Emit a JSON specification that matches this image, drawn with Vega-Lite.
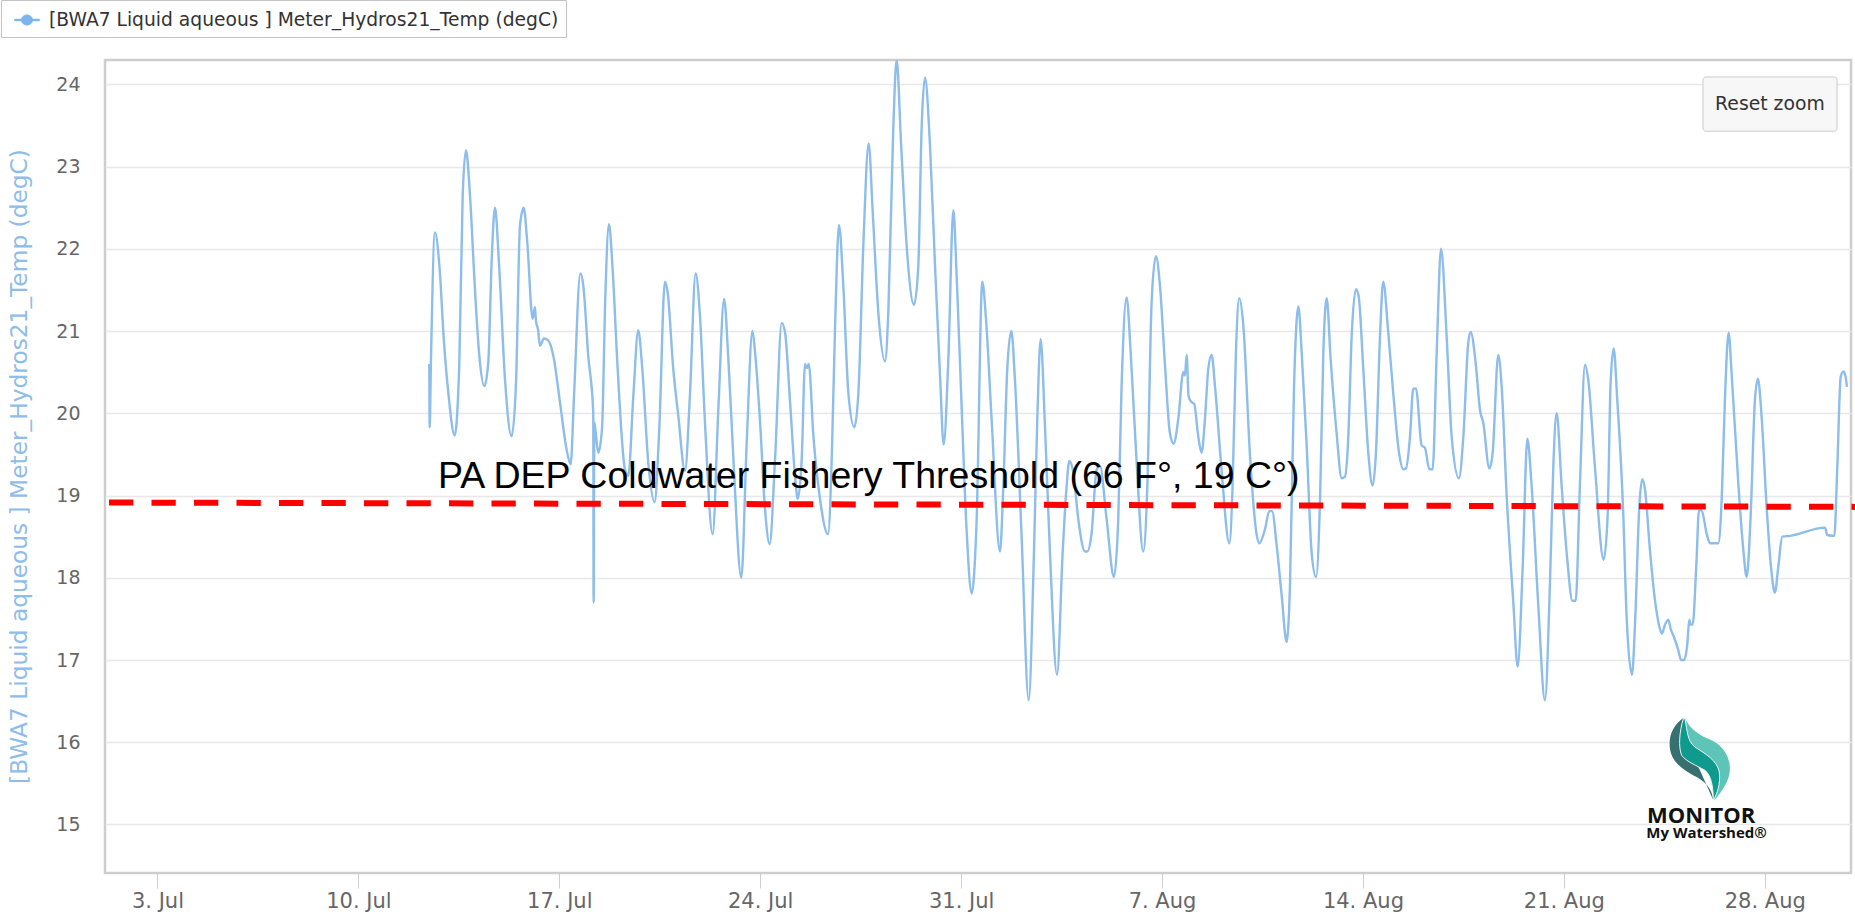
{"$schema":"https://vega.github.io/schema/vega-lite/v6.json","width":1746,"height":813,"autosize":{"type":"none"},"padding":{"left":105,"top":60,"right":4,"bottom":42},"background":"white","config":{"view":{"stroke":"#cdcdcd","strokeWidth":2.5},"font":"DejaVu Sans"},"datasets":{"series":[
{"time":"2023-07-12T11:18Z","temp":20.6},{"time":"2023-07-12T11:36Z","temp":19.83},{"time":"2023-07-12T12:42Z","temp":20.66},{"time":"2023-07-12T16:00Z","temp":22.2},{"time":"2023-07-12T19:42Z","temp":21.8},{"time":"2023-07-12T23:36Z","temp":20.86},{"time":"2023-07-13T03:12Z","temp":20.25},{"time":"2023-07-13T08:30Z","temp":19.73},{"time":"2023-07-13T12:24Z","temp":20.62},{"time":"2023-07-13T15:12Z","temp":22.65},{"time":"2023-07-13T18:00Z","temp":23.2},{"time":"2023-07-13T21:18Z","temp":22.65},{"time":"2023-07-14T01:30Z","temp":21.5},{"time":"2023-07-14T05:06Z","temp":20.7},{"time":"2023-07-14T09:18Z","temp":20.33},{"time":"2023-07-14T12:36Z","temp":20.62},{"time":"2023-07-14T15:24Z","temp":21.84},{"time":"2023-07-14T18:12Z","temp":22.5},{"time":"2023-07-14T21:30Z","temp":21.84},{"time":"2023-07-15T02:36Z","temp":20.41},{"time":"2023-07-15T08:06Z","temp":19.72},{"time":"2023-07-15T11:48Z","temp":20.37},{"time":"2023-07-15T15:06Z","temp":22.28},{"time":"2023-07-15T18:12Z","temp":22.5},{"time":"2023-07-15T21:12Z","temp":22.08},{"time":"2023-07-16T01:42Z","temp":21.15},{"time":"2023-07-16T03:36Z","temp":21.29},{"time":"2023-07-16T04:30Z","temp":21.12},{"time":"2023-07-16T06:12Z","temp":21.02},{"time":"2023-07-16T07:48Z","temp":20.82},{"time":"2023-07-16T11:12Z","temp":20.91},{"time":"2023-07-16T14:30Z","temp":20.89},{"time":"2023-07-16T19:00Z","temp":20.7},{"time":"2023-07-17T00:36Z","temp":20.13},{"time":"2023-07-17T06:06Z","temp":19.56},{"time":"2023-07-17T09:30Z","temp":19.38},{"time":"2023-07-17T12:18Z","temp":20.21},{"time":"2023-07-17T17:36Z","temp":21.7},{"time":"2023-07-17T20:06Z","temp":21.55},{"time":"2023-07-18T00:12Z","temp":20.7},{"time":"2023-07-18T04:24Z","temp":20.01},{"time":"2023-07-18T04:42Z","temp":17.7},{"time":"2023-07-18T05:18Z","temp":19.89},{"time":"2023-07-18T08:36Z","temp":19.52},{"time":"2023-07-18T11:42Z","temp":19.81},{"time":"2023-07-18T14:30Z","temp":21.43},{"time":"2023-07-18T17:30Z","temp":22.3},{"time":"2023-07-18T20:36Z","temp":21.75},{"time":"2023-07-19T00:30Z","temp":20.62},{"time":"2023-07-19T06:54Z","temp":19.32},{"time":"2023-07-19T09:42Z","temp":19.24},{"time":"2023-07-19T13:54Z","temp":20.21},{"time":"2023-07-19T18:00Z","temp":21.01},{"time":"2023-07-19T21:24Z","temp":20.54},{"time":"2023-07-20T02:24Z","temp":19.4},{"time":"2023-07-20T07:42Z","temp":18.92},{"time":"2023-07-20T11:36Z","temp":19.81},{"time":"2023-07-20T16:18Z","temp":21.6},{"time":"2023-07-20T18:36Z","temp":21.47},{"time":"2023-07-20T23:18Z","temp":20.54},{"time":"2023-07-21T03:30Z","temp":19.97},{"time":"2023-07-21T09:06Z","temp":19.3},{"time":"2023-07-21T13:12Z","temp":20.21},{"time":"2023-07-21T18:00Z","temp":21.7},{"time":"2023-07-21T21:36Z","temp":21.19},{"time":"2023-07-22T01:48Z","temp":19.89},{"time":"2023-07-22T08:12Z","temp":18.53},{"time":"2023-07-22T13:00Z","temp":20.05},{"time":"2023-07-22T17:48Z","temp":21.39},{"time":"2023-07-22T21:24Z","temp":20.65},{"time":"2023-07-23T01:36Z","temp":19.44},{"time":"2023-07-23T08:12Z","temp":18.0},{"time":"2023-07-23T12:42Z","temp":19.64},{"time":"2023-07-23T17:30Z","temp":21},{"time":"2023-07-23T19:42Z","temp":20.74},{"time":"2023-07-23T23:54Z","temp":19.89},{"time":"2023-07-24T04:00Z","temp":18.84},{"time":"2023-07-24T07:54Z","temp":18.41},{"time":"2023-07-24T12:24Z","temp":19.44},{"time":"2023-07-24T18:00Z","temp":21.1},{"time":"2023-07-24T20:48Z","temp":20.98},{"time":"2023-07-25T01:00Z","temp":20.13},{"time":"2023-07-25T05:06Z","temp":19.24},{"time":"2023-07-25T07:24Z","temp":18.96},{"time":"2023-07-25T10:42Z","temp":19.44},{"time":"2023-07-25T13:30Z","temp":20.6},{"time":"2023-07-25T14:54Z","temp":20.55},{"time":"2023-07-25T16:36Z","temp":20.6},{"time":"2023-07-25T20:30Z","temp":19.72},{"time":"2023-07-26T02:00Z","temp":18.96},{"time":"2023-07-26T08:42Z","temp":18.53},{"time":"2023-07-26T11:48Z","temp":19.44},{"time":"2023-07-26T14:36Z","temp":21.06},{"time":"2023-07-26T17:54Z","temp":22.29},{"time":"2023-07-26T21:30Z","temp":21.55},{"time":"2023-07-27T01:42Z","temp":20.25},{"time":"2023-07-27T06:42Z","temp":19.83},{"time":"2023-07-27T10:06Z","temp":20.25},{"time":"2023-07-27T14:18Z","temp":22.07},{"time":"2023-07-27T18:42Z","temp":23.28},{"time":"2023-07-27T22:00Z","temp":22.47},{"time":"2023-07-28T02:48Z","temp":21.22},{"time":"2023-07-28T08:24Z","temp":20.63},{"time":"2023-07-28T11:12Z","temp":21.26},{"time":"2023-07-28T15:18Z","temp":23.48},{"time":"2023-07-28T18:06Z","temp":24.3},{"time":"2023-07-28T21:48Z","temp":23.28},{"time":"2023-07-29T02:30Z","temp":22.03},{"time":"2023-07-29T08:36Z","temp":21.32},{"time":"2023-07-29T12:12Z","temp":21.79},{"time":"2023-07-29T15:00Z","temp":23.48},{"time":"2023-07-29T17:48Z","temp":24.08},{"time":"2023-07-29T21:54Z","temp":23.28},{"time":"2023-07-30T02:12Z","temp":21.79},{"time":"2023-07-30T06:24Z","temp":20.45},{"time":"2023-07-30T09:24Z","temp":19.62},{"time":"2023-07-30T13:18Z","temp":20.65},{"time":"2023-07-30T17:30Z","temp":22.47},{"time":"2023-07-30T20:18Z","temp":21.66},{"time":"2023-07-31T00:30Z","temp":20.05},{"time":"2023-07-31T04:42Z","temp":18.55},{"time":"2023-07-31T08:48Z","temp":17.81},{"time":"2023-07-31T13:00Z","temp":18.71},{"time":"2023-07-31T17:42Z","temp":21.6},{"time":"2023-07-31T20:48Z","temp":21.15},{"time":"2023-08-01T01:30Z","temp":19.93},{"time":"2023-08-01T08:30Z","temp":18.32},{"time":"2023-08-01T11:18Z","temp":19.11},{"time":"2023-08-01T14:36Z","temp":20.54},{"time":"2023-08-01T18:00Z","temp":21},{"time":"2023-08-01T21:00Z","temp":20.41},{"time":"2023-08-02T02:36Z","temp":18.5},{"time":"2023-08-02T08:30Z","temp":16.51},{"time":"2023-08-02T12:54Z","temp":18.3},{"time":"2023-08-02T15:42Z","temp":19.93},{"time":"2023-08-02T18:30Z","temp":20.9},{"time":"2023-08-02T22:06Z","temp":19.85},{"time":"2023-08-03T02:18Z","temp":18.3},{"time":"2023-08-03T08:12Z","temp":16.82},{"time":"2023-08-03T12:54Z","temp":18.3},{"time":"2023-08-03T16:12Z","temp":19.11},{"time":"2023-08-03T18:30Z","temp":19.42},{"time":"2023-08-03T21:48Z","temp":19.28},{"time":"2023-08-04T02:00Z","temp":18.71},{"time":"2023-08-04T07:36Z","temp":18.32},{"time":"2023-08-04T09:30Z","temp":18.32},{"time":"2023-08-04T13:06Z","temp":18.54},{"time":"2023-08-04T17:18Z","temp":19.31},{"time":"2023-08-04T20:06Z","temp":19.36},{"time":"2023-08-05T01:42Z","temp":18.71},{"time":"2023-08-05T07:48Z","temp":18.01},{"time":"2023-08-05T11:24Z","temp":18.71},{"time":"2023-08-05T14:12Z","temp":20.33},{"time":"2023-08-05T18:24Z","temp":21.41},{"time":"2023-08-05T21:48Z","temp":20.74},{"time":"2023-08-06T02:48Z","temp":19.4},{"time":"2023-08-06T08:18Z","temp":18.32},{"time":"2023-08-06T11:42Z","temp":19.11},{"time":"2023-08-06T15:18Z","temp":21.35},{"time":"2023-08-06T18:54Z","temp":21.91},{"time":"2023-08-06T22:18Z","temp":21.55},{"time":"2023-08-07T02:30Z","temp":20.58},{"time":"2023-08-07T06:36Z","temp":19.76},{"time":"2023-08-07T09:42Z","temp":19.63},{"time":"2023-08-07T13:36Z","temp":19.93},{"time":"2023-08-07T17:48Z","temp":20.5},{"time":"2023-08-07T19:12Z","temp":20.46},{"time":"2023-08-07T20:36Z","temp":20.71},{"time":"2023-08-07T22:12Z","temp":20.21},{"time":"2023-08-07T23:54Z","temp":20.15},{"time":"2023-08-08T03:00Z","temp":20.11},{"time":"2023-08-08T06:18Z","temp":19.72},{"time":"2023-08-08T09:06Z","temp":19.52},{"time":"2023-08-08T11:54Z","temp":19.93},{"time":"2023-08-08T14:42Z","temp":20.54},{"time":"2023-08-08T17:30Z","temp":20.71},{"time":"2023-08-08T20:18Z","temp":20.33},{"time":"2023-08-09T01:48Z","temp":19.31},{"time":"2023-08-09T08:18Z","temp":18.42},{"time":"2023-08-09T11:00Z","temp":19.11},{"time":"2023-08-09T13:48Z","temp":20.74},{"time":"2023-08-09T16:36Z","temp":21.4},{"time":"2023-08-09T20:00Z","temp":21.07},{"time":"2023-08-10T01:36Z","temp":19.48},{"time":"2023-08-10T07:12Z","temp":18.52},{"time":"2023-08-10T09:24Z","temp":18.42},{"time":"2023-08-10T14:06Z","temp":18.59},{"time":"2023-08-10T17:42Z","temp":18.81},{"time":"2023-08-10T20:00Z","temp":18.81},{"time":"2023-08-10T23:54Z","temp":18.39},{"time":"2023-08-11T04:06Z","temp":17.78},{"time":"2023-08-11T08:12Z","temp":17.22},{"time":"2023-08-11T11:00Z","temp":17.9},{"time":"2023-08-11T14:24Z","temp":20.33},{"time":"2023-08-11T18:00Z","temp":21.3},{"time":"2023-08-11T20:48Z","temp":20.74},{"time":"2023-08-12T01:00Z","temp":19.6},{"time":"2023-08-12T05:06Z","temp":18.31},{"time":"2023-08-12T08:48Z","temp":18.01},{"time":"2023-08-12T12:06Z","temp":18.92},{"time":"2023-08-12T14:54Z","temp":20.74},{"time":"2023-08-12T17:42Z","temp":21.4},{"time":"2023-08-12T21:00Z","temp":20.66},{"time":"2023-08-13T02:00Z","temp":19.76},{"time":"2023-08-13T06:12Z","temp":19.21},{"time":"2023-08-13T09:00Z","temp":19.23},{"time":"2023-08-13T11:48Z","temp":19.72},{"time":"2023-08-13T14:36Z","temp":20.94},{"time":"2023-08-13T18:12Z","temp":21.51},{"time":"2023-08-13T20:24Z","temp":21.43},{"time":"2023-08-14T00:18Z","temp":20.54},{"time":"2023-08-14T04:30Z","temp":19.52},{"time":"2023-08-14T08:06Z","temp":19.12},{"time":"2023-08-14T10:54Z","temp":19.52},{"time":"2023-08-14T14:18Z","temp":20.94},{"time":"2023-08-14T17:00Z","temp":21.6},{"time":"2023-08-14T21:12Z","temp":20.98},{"time":"2023-08-15T01:24Z","temp":20.24},{"time":"2023-08-15T06:12Z","temp":19.52},{"time":"2023-08-15T09:48Z","temp":19.32},{"time":"2023-08-15T12:00Z","temp":19.33},{"time":"2023-08-15T15:24Z","temp":19.72},{"time":"2023-08-15T18:06Z","temp":20.3},{"time":"2023-08-15T20:24Z","temp":20.3},{"time":"2023-08-16T01:06Z","temp":19.61},{"time":"2023-08-16T03:54Z","temp":19.58},{"time":"2023-08-16T07:30Z","temp":19.32},{"time":"2023-08-16T10:18Z","temp":19.32},{"time":"2023-08-16T13:42Z","temp":20.74},{"time":"2023-08-16T17:18Z","temp":22},{"time":"2023-08-16T22:00Z","temp":20.94},{"time":"2023-08-17T02:12Z","temp":19.72},{"time":"2023-08-17T08:18Z","temp":19.21},{"time":"2023-08-17T12:00Z","temp":19.72},{"time":"2023-08-17T16:06Z","temp":20.86},{"time":"2023-08-17T18:06Z","temp":20.99},{"time":"2023-08-17T22:30Z","temp":20.58},{"time":"2023-08-18T01:54Z","temp":20.04},{"time":"2023-08-18T04:42Z","temp":19.88},{"time":"2023-08-18T09:42Z","temp":19.33},{"time":"2023-08-18T12:30Z","temp":19.52},{"time":"2023-08-18T17:12Z","temp":20.71},{"time":"2023-08-18T20:00Z","temp":20.33},{"time":"2023-08-19T00:12Z","temp":19},{"time":"2023-08-19T05:48Z","temp":17.69},{"time":"2023-08-19T09:24Z","temp":16.92},{"time":"2023-08-19T13:36Z","temp":18.13},{"time":"2023-08-19T17:30Z","temp":19.69},{"time":"2023-08-19T21:06Z","temp":19.11},{"time":"2023-08-20T02:42Z","temp":17.65},{"time":"2023-08-20T08:12Z","temp":16.51},{"time":"2023-08-20T12:24Z","temp":17.93},{"time":"2023-08-20T15:12Z","temp":19.35},{"time":"2023-08-20T18:00Z","temp":20},{"time":"2023-08-20T22:12Z","temp":19.11},{"time":"2023-08-21T02:54Z","temp":18.22},{"time":"2023-08-21T07:06Z","temp":17.72},{"time":"2023-08-21T09:54Z","temp":17.72},{"time":"2023-08-21T13:30Z","temp":19.15},{"time":"2023-08-21T17:42Z","temp":20.59},{"time":"2023-08-21T20:30Z","temp":20.4},{"time":"2023-08-22T02:00Z","temp":19.35},{"time":"2023-08-22T09:18Z","temp":18.22},{"time":"2023-08-22T12:36Z","temp":18.74},{"time":"2023-08-22T15:06Z","temp":20.36},{"time":"2023-08-22T17:42Z","temp":20.79},{"time":"2023-08-22T20:42Z","temp":20.16},{"time":"2023-08-23T01:42Z","temp":18.78},{"time":"2023-08-23T04:30Z","temp":17.53},{"time":"2023-08-23T09:00Z","temp":16.82},{"time":"2023-08-23T11:48Z","temp":17.53},{"time":"2023-08-23T15:06Z","temp":18.86},{"time":"2023-08-23T17:36Z","temp":19.2},{"time":"2023-08-23T19:54Z","temp":19.07},{"time":"2023-08-24T00:00Z","temp":18.34},{"time":"2023-08-24T04:12Z","temp":17.73},{"time":"2023-08-24T07:30Z","temp":17.43},{"time":"2023-08-24T10:00Z","temp":17.32},{"time":"2023-08-24T12:36Z","temp":17.43},{"time":"2023-08-24T15:24Z","temp":17.49},{"time":"2023-08-24T17:18Z","temp":17.38},{"time":"2023-08-24T20:06Z","temp":17.28},{"time":"2023-08-24T23:42Z","temp":17.12},{"time":"2023-08-25T02:00Z","temp":17},{"time":"2023-08-25T04:30Z","temp":17},{"time":"2023-08-25T07:18Z","temp":17.2},{"time":"2023-08-25T08:54Z","temp":17.49},{"time":"2023-08-25T10:00Z","temp":17.43},{"time":"2023-08-25T11:42Z","temp":17.43},{"time":"2023-08-25T15:00Z","temp":18.22},{"time":"2023-08-25T17:00Z","temp":18.82},{"time":"2023-08-25T19:12Z","temp":18.82},{"time":"2023-08-25T23:24Z","temp":18.54},{"time":"2023-08-26T02:12Z","temp":18.42},{"time":"2023-08-26T09:12Z","temp":18.42},{"time":"2023-08-26T12:00Z","temp":18.95},{"time":"2023-08-26T14:42Z","temp":20.16},{"time":"2023-08-26T17:48Z","temp":20.98},{"time":"2023-08-26T20:18Z","temp":20.49},{"time":"2023-08-27T01:54Z","temp":19.15},{"time":"2023-08-27T06:06Z","temp":18.34},{"time":"2023-08-27T08:54Z","temp":18.01},{"time":"2023-08-27T12:12Z","temp":18.74},{"time":"2023-08-27T15:48Z","temp":20.16},{"time":"2023-08-27T18:18Z","temp":20.42},{"time":"2023-08-27T21:24Z","temp":19.96},{"time":"2023-08-28T01:36Z","temp":18.86},{"time":"2023-08-28T05:48Z","temp":18.05},{"time":"2023-08-28T08:30Z","temp":17.82},{"time":"2023-08-28T11:18Z","temp":18.13},{"time":"2023-08-28T14:42Z","temp":18.5},{"time":"2023-08-28T21:06Z","temp":18.51},{"time":"2023-08-30T02:24Z","temp":18.61},{"time":"2023-08-30T04:18Z","temp":18.52},{"time":"2023-08-30T10:12Z","temp":18.51},{"time":"2023-08-30T12:42Z","temp":19.35},{"time":"2023-08-30T15:30Z","temp":20.44},{"time":"2023-08-30T17:42Z","temp":20.51},{"time":"2023-08-30T19:24Z","temp":20.46},{"time":"2023-08-30T20:48Z","temp":20.32}
],"threshold":[{"time":"2023-07-01T07:26Z","temp":18.915},{"time":"2023-08-31T03:32Z","temp":18.862}],"caption":[{"time":"2023-07-12T18:30Z","temp":19.09,"label":"PA DEP Coldwater Fishery Threshold (66 F°, 19 C°)"}],"button":[{"start":"2023-08-25T20:24Z","end":"2023-08-30T12:30Z","low":23.43,"high":24.09}],"buttonText":[{"time":"2023-08-28T04:20Z","temp":23.76,"label":"Reset zoom"}],"logo":[{"time":"2023-08-25T17:17Z","temp":15.8}],"logoText1":[{"time":"2023-08-23T21:36Z","temp":15.02,"label":"MONITOR"}],"logoText2":[{"time":"2023-08-23T21:00Z","temp":14.83,"label":"My Watershed®"}]},
"encoding":{"x":{"field":"time","type":"temporal","scale":{"type":"utc","domain":[{"year":2023,"month":"jul","date":1,"hours":4,"minutes":6,"utc":true},{"year":2023,"month":"aug","date":31,"hours":0,"minutes":9,"utc":true}]},"axis":{"title":null,"grid":false,"domain":false,"format":"%-d. %b","values":[{"year":2023,"month":"jul","date":3,"utc":true},{"year":2023,"month":"jul","date":10,"utc":true},{"year":2023,"month":"jul","date":17,"utc":true},{"year":2023,"month":"jul","date":24,"utc":true},{"year":2023,"month":"jul","date":31,"utc":true},{"year":2023,"month":"aug","date":7,"utc":true},{"year":2023,"month":"aug","date":14,"utc":true},{"year":2023,"month":"aug","date":21,"utc":true},{"year":2023,"month":"aug","date":28,"utc":true}],"tickColor":"#cfcfcf","tickSize":15,"tickWidth":1,"labelColor":"#666666","labelFontSize":21,"labelFont":"DejaVu Sans","labelPadding":2,"labelFlush":false,"labelOverlap":false}},"y":{"field":"temp","type":"quantitative","scale":{"domain":[14.41,24.296],"nice":false,"zero":false},"axis":{"title":"[BWA7 Liquid aqueous ] Meter_Hydros21_Temp (degC)","titleColor":"#8fbde9","titleFontSize":23.3,"titleFont":"DejaVu Sans","titleFontWeight":"normal","titleX":-74,"titleY":406,"titleAnchor":null,"values":[15,16,17,18,19,20,21,22,23,24],"ticks":false,"domain":false,"gridColor":"#e8e8e8","gridWidth":1.5,"labelColor":"#666666","labelFontSize":19,"labelFont":"DejaVu Sans","labelPadding":25}}},
"layer":[
{"data":{"name":"series"},"mark":{"type":"line","strokeWidth":2.4,"clip":true,"interpolate":"monotone"},"encoding":{"color":{"datum":"[BWA7 Liquid aqueous ] Meter_Hydros21_Temp (degC)","scale":{"range":["#8dbdea"]},"legend":{"title":null,"orient":"none","legendX":-104,"legendY":-60,"fillColor":"white","strokeColor":"#c4c4c4","padding":7,"symbolOffset":6,"symbolType":"M -1,-0.08 H -0.46 A 0.48,0.48 0 0 1 0.46,-0.08 H 1 V 0.08 H 0.46 A 0.48,0.48 0 0 1 -0.46,0.08 H -1 Z","symbolSize":625,"symbolFillColor":"#7cb5ec","symbolStrokeColor":"#7cb5ec","symbolStrokeWidth":0.5,"labelFontSize":18.7,"labelColor":"#333333","labelFont":"DejaVu Sans","labelOffset":9,"labelLimit":800}}}},
{"data":{"name":"threshold"},"mark":{"type":"line","color":"#ff0000","strokeWidth":6,"strokeDash":[24.3,18.2]}},
{"data":{"name":"caption"},"mark":{"type":"text","align":"left","baseline":"alphabetic","font":"Liberation Sans","fontSize":37.5,"color":"#000000"},"encoding":{"text":{"field":"label"}}},
{"data":{"name":"button"},"mark":{"type":"rect","fill":"#f7f7f7","stroke":"#cccccc","strokeWidth":1,"cornerRadius":3},"encoding":{"x":{"field":"start","type":"temporal"},"x2":{"field":"end"},"y":{"field":"low","type":"quantitative"},"y2":{"field":"high"}}},
{"data":{"name":"buttonText"},"mark":{"type":"text","align":"center","baseline":"middle","fontSize":18.8,"font":"DejaVu Sans","color":"#333333"},"encoding":{"text":{"field":"label"}}},
{"data":{"name":"logo"},"mark":{"type":"point","filled":true,"opacity":1,"size":10000,"color":"#38706f","shape":"M -0.32,-0.813 C -0.52,-0.667 -0.62,-0.467 -0.587,-0.2 C -0.553,0.067 -0.32,0.233 -0.053,0.367 C 0.18,0.5 0.267,0.667 0.28,0.833 L 0,0.2 L -0.35,-0.3 Z"}},
{"data":{"name":"logo"},"mark":{"type":"point","filled":true,"opacity":1,"size":10000,"color":"#5fc4b8","shape":"M -0.29,-0.813 C -0.22,-0.667 -0.087,-0.5 0.18,-0.4 C 0.447,-0.3 0.613,-0.067 0.613,0.2 C 0.613,0.433 0.447,0.667 0.3,0.833 L 0.2,0.2 L -0.15,-0.2 L -0.27,-0.5 Z"}},
{"data":{"name":"logo"},"mark":{"type":"point","filled":true,"opacity":1,"size":10000,"fill":"#0f9a8d","stroke":"#e6f7f5","strokeWidth":1,"shape":"M -0.32,-0.8 C -0.4,-0.533 -0.42,-0.233 -0.353,-0.067 C -0.253,0.067 -0.053,0.133 0.113,0.233 C 0.247,0.333 0.28,0.6 0.28,0.833 C 0.36,0.7 0.427,0.5 0.4,0.267 C 0.36,0.033 0.113,-0.1 -0.087,-0.233 C -0.24,-0.347 -0.24,-0.567 -0.287,-0.8 Z"}},
{"data":{"name":"logoText1"},"mark":{"type":"text","align":"left","baseline":"alphabetic","font":"Open Sans","fontWeight":"bold","fontSize":22,"color":"#111111"},"encoding":{"text":{"field":"label"}}},
{"data":{"name":"logoText2"},"mark":{"type":"text","align":"left","baseline":"alphabetic","font":"Open Sans","fontWeight":"bold","fontSize":15,"color":"#111111"},"encoding":{"text":{"field":"label"}}}
]}
